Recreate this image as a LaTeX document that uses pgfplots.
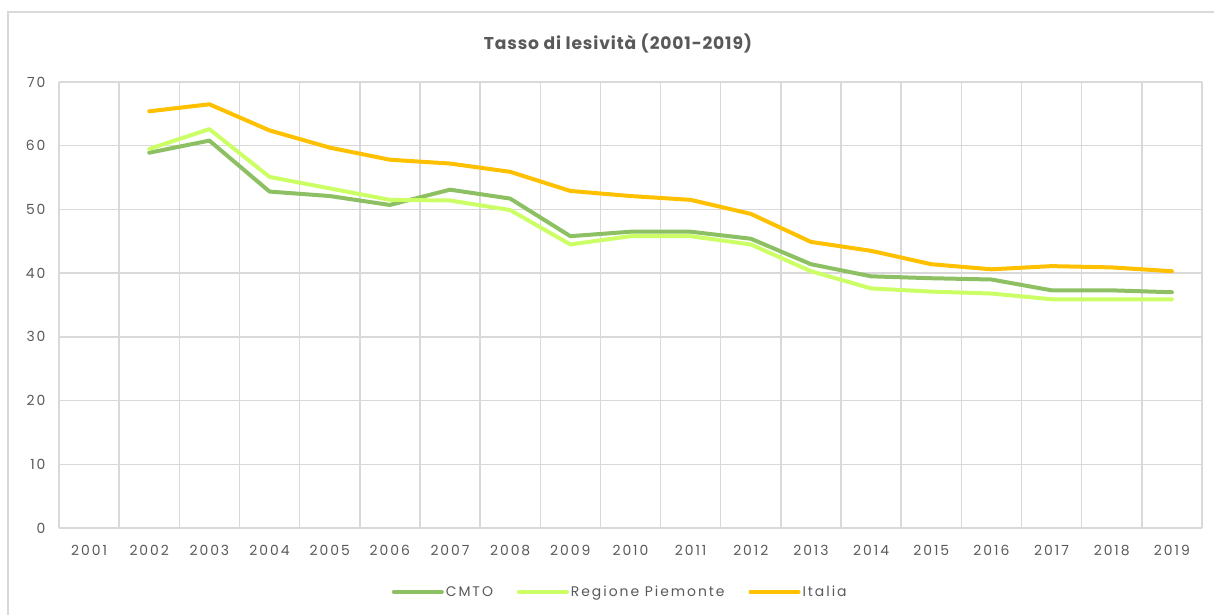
\documentclass[border=0pt]{standalone}
\usepackage{pgfplots}
\pgfplotsset{compat=1.18}
\usepackage{fontspec}
\setmainfont{Poppins}[LetterSpace=14]
\newfontfamily\titlefont{Poppins}[LetterSpace=5]
\definecolor{txt}{HTML}{595959}
\definecolor{gridc}{HTML}{D9D9D9}
\definecolor{cmto}{HTML}{8CC063}
\definecolor{piem}{HTML}{CCFF66}
\definecolor{ita}{HTML}{FFC000}
\begin{document}
\begin{tikzpicture}[x=1bp,y=1bp]
\useasboundingbox (0,0) rectangle (1214,615);
\draw[gridc, line width=1.5bp] (8,0) -- (8,603) -- (1214,603);
\node[font=\titlefont\fontsize{17.2}{20}\selectfont\bfseries, text=txt] at (618,572) {Tasso di lesività (2001-2019)};
\begin{axis}[
  at={(59bp,87bp)}, anchor=south west,
  scale only axis, width=1143bp, height=446bp,
  xmin=0.5, xmax=19.5, ymin=0, ymax=70,
  xtick={1,2,3,4,5,6,7,8,9,10,11,12,13,14,15,16,17,18,19},
  xticklabels={2001,2002,2003,2004,2005,2006,2007,2008,2009,2010,2011,2012,2013,2014,2015,2016,2017,2018,2019},
  minor xtick={0.5,1.5,2.5,3.5,4.5,5.5,6.5,7.5,8.5,9.5,10.5,11.5,12.5,13.5,14.5,15.5,16.5,17.5,18.5,19.5},
  ytick={0,10,20,30,40,50,60,70},
  xmajorgrids=false, xminorgrids=true, ymajorgrids=true,
  grid style={gridc, line width=1.5bp},
  minor grid style={gridc, line width=1.5bp},
  major tick length=0pt, minor tick length=0pt,
  axis line style={draw=none},
  tick label style={font=\fontsize{14}{16}\selectfont, text=txt},
  /pgf/number format/assume math mode=true,
  yticklabel style={anchor=east, xshift=-10bp},
  xticklabel style={anchor=base, yshift=-28bp},
  legend columns=3,
  legend style={at={(0.491,-0.1435)}, anchor=center, draw=none, fill=none,
    font=\fontsize{14}{16}\selectfont, text=txt, inner xsep=0pt,
    /tikz/every even column/.append style={column sep=22bp},
    /tikz/every odd column/.append style={column sep=0bp}},
  legend image code/.code={\draw[#1] (0bp,0bp) -- (48bp,0bp);},
  every axis plot/.append style={line width=4bp, line join=round, line cap=round},
]
\addplot[cmto] coordinates {
(2,58.9) (3,60.8) (4,52.8) (5,52.1) (6,50.7) (7,53.1) (8,51.7) (9,45.8) (10,46.5) (11,46.5) (12,45.4) (13,41.4) (14,39.5) (15,39.2) (16,39.0) (17,37.3) (18,37.3) (19,37.0)};
\addlegendentry{CMTO}
\addplot[piem] coordinates {
(2,59.5) (3,62.6) (4,55.1) (5,53.3) (6,51.5) (7,51.4) (8,49.9) (9,44.5) (10,45.8) (11,45.8) (12,44.5) (13,40.3) (14,37.6) (15,37.1) (16,36.8) (17,35.9) (18,35.9) (19,35.9)};
\addlegendentry{Regione Piemonte}
\addplot[ita] coordinates {
(2,65.4) (3,66.5) (4,62.4) (5,59.7) (6,57.8) (7,57.2) (8,55.9) (9,52.9) (10,52.1) (11,51.5) (12,49.3) (13,44.9) (14,43.5) (15,41.4) (16,40.6) (17,41.1) (18,40.9) (19,40.3)};
\addlegendentry{Italia}
\end{axis}
\end{tikzpicture}
\end{document}
